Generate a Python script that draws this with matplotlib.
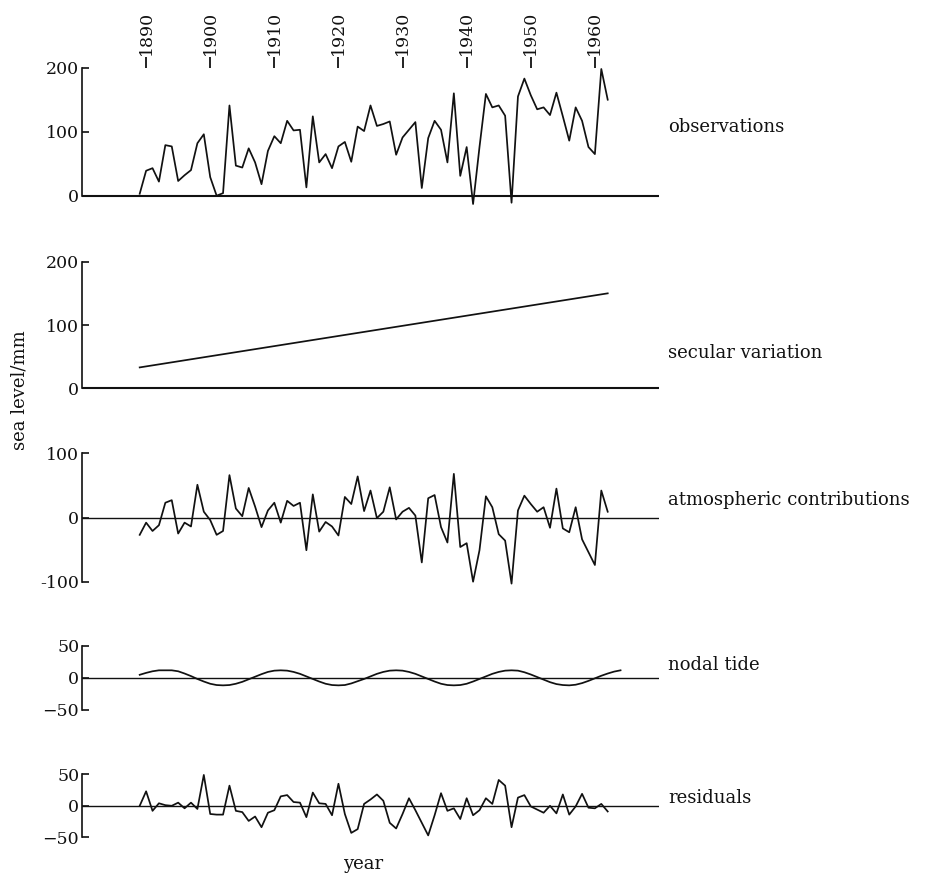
import matplotlib
matplotlib.use("Agg")
import matplotlib.pyplot as plt

# annual values, 1889-1962
years = list(range(1889, 1963))
observations = [3, 39, 43, 22, 79, 77, 23, 32, 40, 82,
                96, 29, 0, 4, 141, 47, 44, 74, 52, 18,
                70, 93, 82, 117, 102, 103, 13, 124, 52, 65,
                43, 77, 84, 53, 108, 101, 141, 109, 112, 116,
                64, 91, 103, 115, 12, 90, 117, 103, 52, 160,
                31, 76, -13, 76, 159, 138, 141, 125, -11, 155,
                183, 157, 135, 138, 126, 161, 124, 86, 138, 117,
                76, 65, 198, 150]
secular_years = [1889, 1962]
secular = [33, 150]
atmospheric = [-27, -8, -21, -12, 23, 27, -25, -8, -14, 51,
               9, -4, -27, -21, 66, 14, 2, 46, 17, -15,
               11, 23, -8, 26, 18, 23, -51, 36, -22, -7,
               -14, -28, 32, 21, 64, 10, 42, -1, 9, 47,
               -3, 9, 15, 3, -70, 30, 35, -15, -39, 68,
               -46, -40, -100, -51, 33, 16, -26, -36, -103, 11,
               34, 21, 9, 16, -16, 45, -17, -23, 16, -34,
               -54, -74, 42, 9]
nodal_years = list(range(1889, 1965))
nodal = [5, 8, 10.5, 12, 12, 12, 10.5, 7, 3, -1.5,
         -5.5, -9, -11, -11.5, -11, -9, -6, -2, 2, 6,
         9.5, 11.5, 12, 11.5, 9.5, 6.5, 2.5, -1.5, -5.5, -9,
         -11, -11.5, -11, -8.5, -5, -1.5, 2.5, 6.5, 9.5, 11.5,
         12, 11.5, 9.5, 6.5, 2.5, -1.5, -5.5, -9, -11, -11.5,
         -11, -9, -5.5, -1.5, 2.5, 6.5, 9.5, 11.5, 12, 11.5,
         9, 5.5, 1.5, -2.5, -6.5, -9.5, -11, -11.5, -10.5, -8,
         -4.5, -0.5, 3.5, 7, 10, 12]
residuals = [0, 23, -8, 4, 1, 0, 5, -4, 5, -5,
             49, -13, -14, -14, 32, -8, -10, -24, -17, -34,
             -11, -7, 15, 17, 6, 5, -18, 21, 4, 3,
             -15, 35, -13, -43, -37, 3, 10, 18, 8, -27,
             -36, -13, 12, -7, -27, -47, -15, 20, -8, -4,
             -21, 12, -15, -7, 12, 3, 41, 32, -34, 13,
             17, -1, -6, -11, 0, -12, 18, -14, -1, 19,
             -3, -4, 3, -9]
decades = [1890, 1900, 1910, 1920, 1930, 1940, 1950, 1960]

plt.rcParams['font.family'] = ['DejaVu Serif']
plt.rcParams['font.size'] = 12.5

W, H = 936, 874
fig = plt.figure(figsize=(W / 100, H / 100), dpi=100)

x_left, x_right = 82, 659
ink = '#111111'

# (x, y, top px, bottom px, ylim, ticks, tick labels, name, name y px, zero lw)
panels = [
    (years, observations, 67.7, 208.5, (-20, 200), [0, 100, 200], ['0', '100', '200'],
     'observations', 127, 1.5),
    (secular_years, secular, 261.7, 390.2, (-3, 200), [0, 100, 200], ['0', '100', '200'],
     'secular variation', 353, 1.5),
    (years, atmospheric, 453.3, 581.7, (-100, 100), [-100, 0, 100], ['-100', '0', '100'],
     'atmospheric contributions', 500, 1.0),
    (nodal_years, nodal, 646, 710, (-50, 50), [-50, 0, 50], ['\u221250', '0', '50'],
     'nodal tide', 665, 1.0),
    (years, residuals, 774.3, 837.3, (-50, 50), [-50, 0, 50], ['\u221250', '0', '50'],
     'residuals', 798, 1.0),
]

for i, (xs, ys, top, bottom, ylim, ticks, tlabels, name, name_y, zlw) in enumerate(panels):
    ax = fig.add_axes([x_left / W, 1 - bottom / H, (x_right - x_left) / W, (bottom - top) / H])
    ax.set_xlim(1880, 1970)
    ax.set_ylim(*ylim)
    ax.patch.set_visible(False)
    for side in ['top', 'right', 'bottom']:
        ax.spines[side].set_visible(False)
    ax.spines['left'].set_bounds(ticks[0], ticks[-1])
    ax.spines['left'].set_linewidth(1.2)
    ax.spines['left'].set_color(ink)
    ax.set_yticks(ticks)
    ax.set_yticklabels(tlabels)
    ax.tick_params(axis='y', direction='in', length=5, width=1.2, pad=2, colors=ink)
    ax.axhline(0, color=ink, lw=zlw)
    ax.plot(xs, ys, color=ink, lw=1.25, clip_on=False)

    if i == 0:
        ax.xaxis.tick_top()
        ax.set_xticks(decades)
        ax.set_xticklabels([str(d) for d in decades], rotation=90)
        ax.tick_params(axis='x', direction='out', length=8, width=1.3, pad=1.5, colors=ink)
    else:
        ax.set_xticks([])

    fig.text(668 / W, 1 - name_y / H, name, ha='left', va='center', fontsize=13, color=ink)

fig.text(20 / W, 1 - 390 / H, 'sea level/mm', rotation=90, ha='center', va='center',
         fontsize=13, color=ink)
fig.text(363 / W, 1 - 864 / H, 'year', ha='center', va='center', fontsize=13, color=ink)

fig.savefig('out.png', dpi=100)
